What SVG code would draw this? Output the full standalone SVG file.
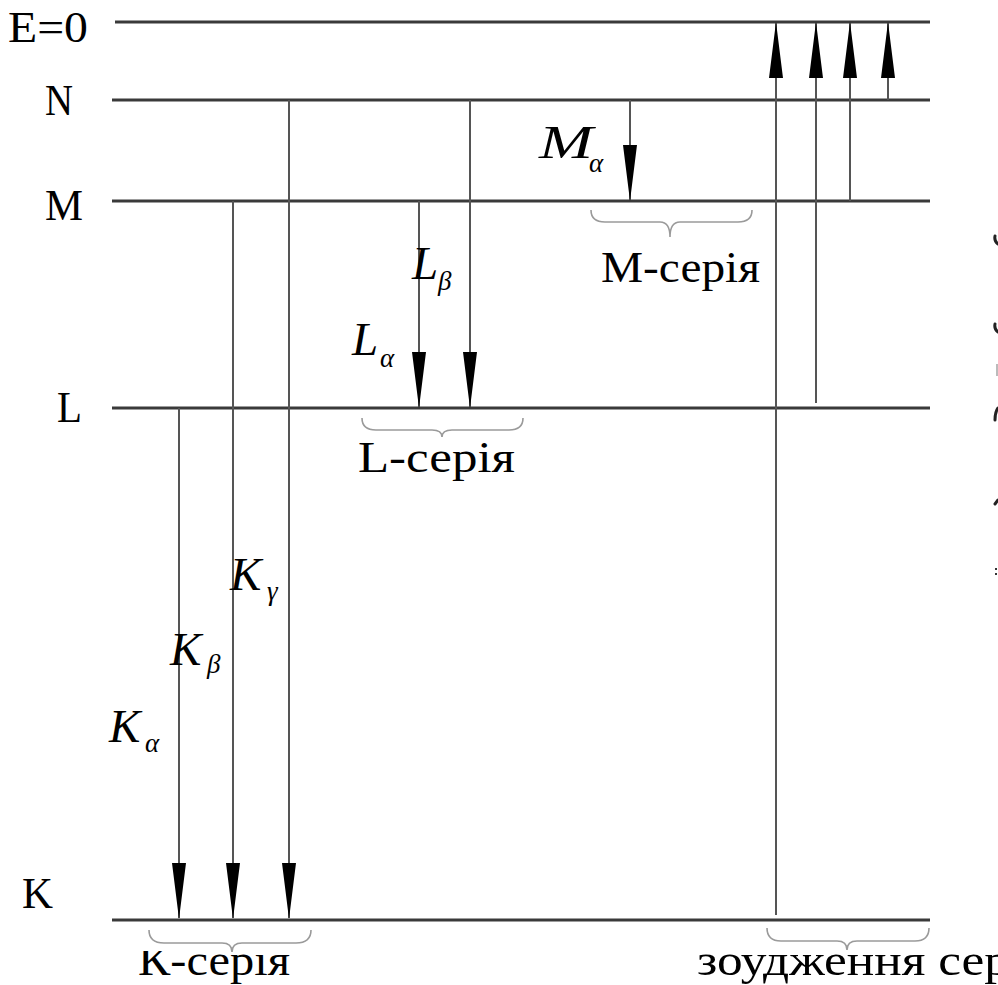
<svg xmlns="http://www.w3.org/2000/svg" width="998" height="985" viewBox="0 0 998 985">
<style>
.lvl{stroke:#3a3a3a;stroke-width:3;fill:none}
.tr{stroke:#555;stroke-width:2;fill:none}
.br{stroke:#9a9a9a;stroke-width:1.6;fill:none}
.ed{stroke:#222;stroke-width:3;fill:none;stroke-linecap:round}
text{font-family:"Liberation Serif","Times New Roman","DejaVu Serif",serif;fill:#000}
.t{font-size:45px}
.m{font-style:italic;font-size:47px}
.s{font-style:italic;font-size:27px}
</style>
<defs>
<marker id="ah" viewBox="0 0 56 16" refX="55" refY="8" markerWidth="56" markerHeight="16" markerUnits="userSpaceOnUse" orient="auto">
<path d="M0,1 L56,8 L0,15 Z" fill="#000"/>
</marker>
<clipPath id="cb"><rect x="0" y="951" width="998" height="40"/></clipPath>
</defs>
<rect width="998" height="985" fill="#fff"/>
<g id="levels">
<g id="lvl-E"><line class="lvl" x1="115" y1="22" x2="930" y2="22"/><text class="t" x="8" y="42" textLength="80" lengthAdjust="spacingAndGlyphs">E=0</text></g>
<g id="lvl-N"><line class="lvl" x1="112" y1="100" x2="930" y2="100"/><text class="t" x="45" y="115" textLength="28" lengthAdjust="spacingAndGlyphs">N</text></g>
<g id="lvl-M"><line class="lvl" x1="112" y1="201" x2="930" y2="201"/><text class="t" x="45" y="220" textLength="38" lengthAdjust="spacingAndGlyphs">M</text></g>
<g id="lvl-L"><line class="lvl" x1="112" y1="408" x2="930" y2="408"/><text class="t" x="57" y="422" textLength="25" lengthAdjust="spacingAndGlyphs">L</text></g>
<g id="lvl-K"><line class="lvl" x1="112" y1="920" x2="930" y2="920"/><text class="t" x="22" y="908" textLength="31" lengthAdjust="spacingAndGlyphs">K</text></g>
</g>
<g id="connectors">
<line class="tr" x1="179" y1="408" x2="179" y2="918" marker-end="url(#ah)"/>
<line class="tr" x1="233" y1="201" x2="233" y2="918" marker-end="url(#ah)"/>
<line class="tr" x1="289" y1="100" x2="289" y2="918" marker-end="url(#ah)"/>
<line class="tr" x1="419" y1="201" x2="419" y2="407" marker-end="url(#ah)"/>
<line class="tr" x1="470" y1="100" x2="470" y2="407" marker-end="url(#ah)"/>
<line class="tr" x1="630" y1="100" x2="630" y2="200" marker-end="url(#ah)"/>
<line class="tr" x1="776" y1="915" x2="776" y2="23" marker-end="url(#ah)"/>
<line class="tr" x1="816" y1="403" x2="816" y2="23" marker-end="url(#ah)"/>
<line class="tr" x1="850" y1="201" x2="850" y2="23" marker-end="url(#ah)"/>
<line class="tr" x1="888" y1="100" x2="888" y2="23" marker-end="url(#ah)"/>
</g>
<g id="labels">
<g id="Ka"><text class="m" x="109" y="742">K</text><text class="s" x="145" y="752">α</text></g>
<g id="Kb"><text class="m" x="170" y="665">K</text><text class="s" x="207" y="673">β</text></g>
<g id="Kg"><text class="m" x="230" y="590">K</text><text class="s" x="267" y="600">γ</text></g>
<g id="La"><text class="m" x="352" y="355">L</text><text class="s" x="380" y="367">α</text></g>
<g id="Lb"><text class="m" x="412" y="279">L</text><text class="s" x="438" y="290">β</text></g>
<g id="Ma"><text class="m" x="539" y="158" textLength="54" lengthAdjust="spacingAndGlyphs">M</text><text class="s" x="589" y="172">α</text></g>
</g>
<g id="series">
<g id="K-series">
<path class="br" d="M149,930 Q149,943 164,943 L222,943 Q232,943 232,952 Q232,943 242,943 L296,943 Q311,943 311,930"/>
<text class="t" x="138" y="975" clip-path="url(#cb)" textLength="152" lengthAdjust="spacingAndGlyphs">К-серія</text>
</g>
<g id="L-series">
<path class="br" d="M362,418 Q362,430 376,430 L432,430 Q442,430 442,437 Q442,430 452,430 L509,430 Q523,430 523,418"/>
<text class="t" x="358" y="472" textLength="157" lengthAdjust="spacingAndGlyphs">L-серія</text>
</g>
<g id="M-series">
<path class="br" d="M591,210 Q591,222 605,222 L660,222 Q670,222 670,237 Q670,222 680,222 L738,222 Q752,222 752,210"/>
<text class="t" x="601" y="282" textLength="159" lengthAdjust="spacingAndGlyphs">M-серія</text>
</g>
<g id="exc-series">
<path class="br" d="M767,928 Q767,941 781,941 L837,941 Q847,941 847,950 Q847,941 857,941 L915,941 Q929,941 929,928"/>
<text class="t" x="697" y="975" clip-path="url(#cb)" textLength="313" lengthAdjust="spacingAndGlyphs">зоудження сер</text>
</g>
</g>
<g id="edge-marks">
<path class="ed" d="M995,236 Q994,241 998,244"/>
<path class="ed" d="M995,324 Q994,329 998,332"/>
<path d="M996,364 L998,364 L998,376 L996,376 Z" fill="#bbb"/>
<path class="ed" d="M998,408 Q995,412 995,420"/>
<path class="ed" d="M995,504 L998,500"/>
<path d="M995,568 h2 v2 h-2 Z M995,573 h2 v2 h-2 Z" fill="#333"/>
</g>
</svg>
